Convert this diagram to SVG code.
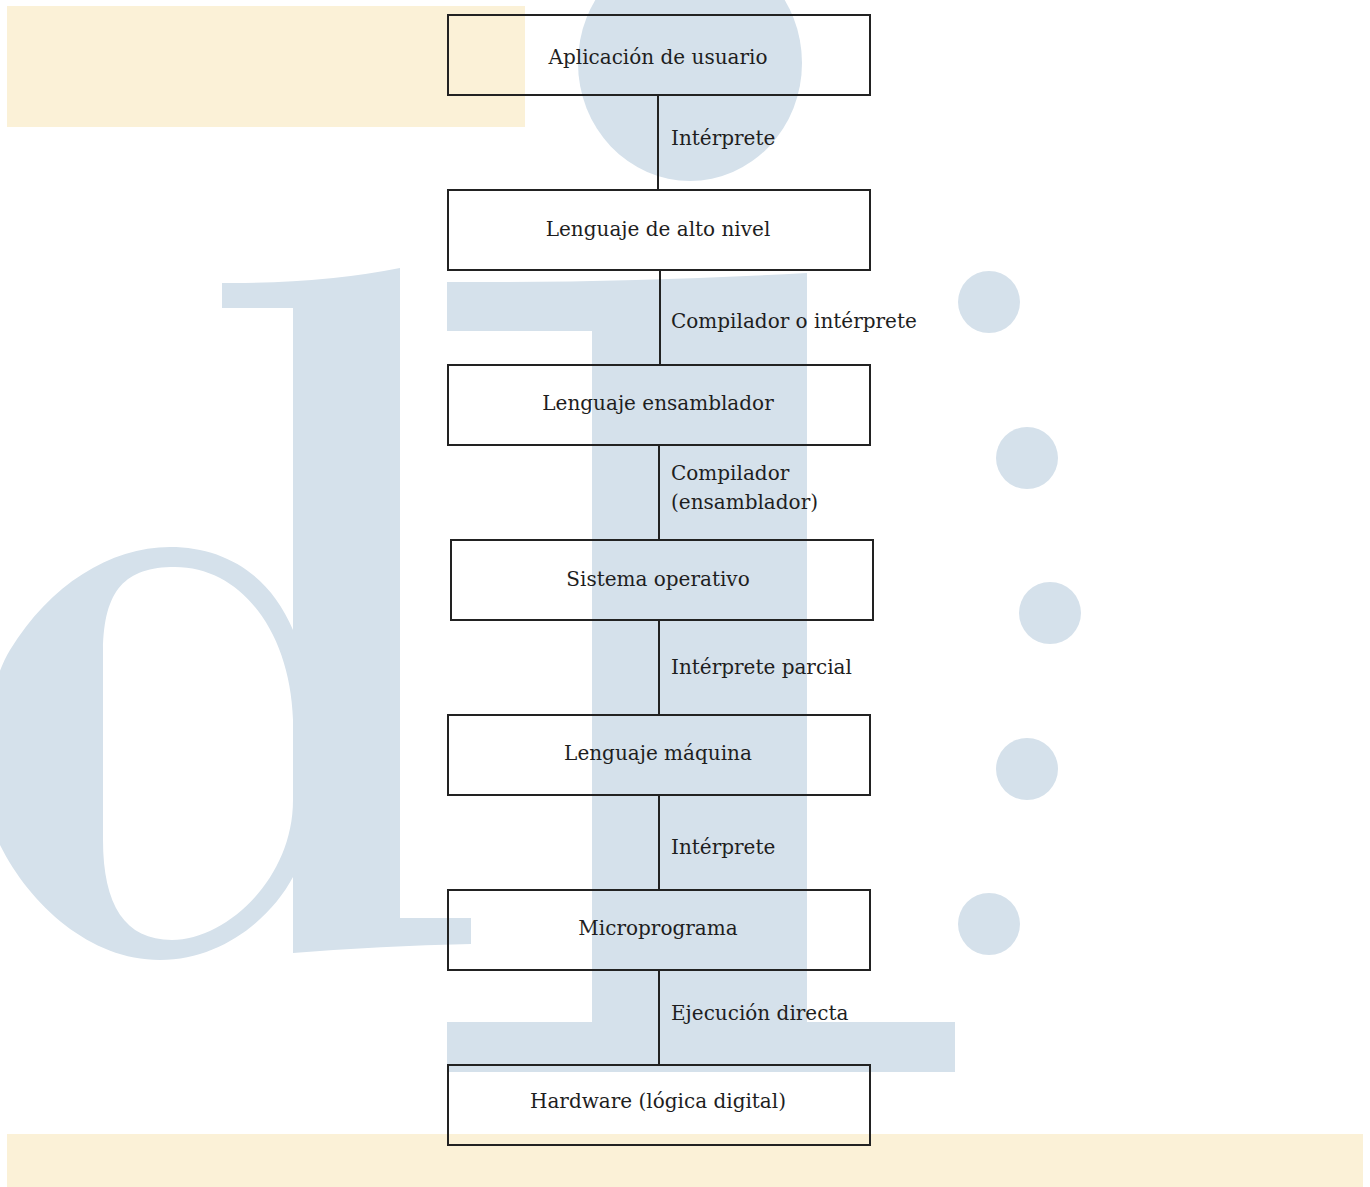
<svg xmlns="http://www.w3.org/2000/svg" width="1370" height="1187" viewBox="0 0 1370 1187">
  <style>
    .bg-blue { fill: #d5e1eb; }
    .bg-yellow { fill: #fbf1d7; }
    .box { fill: none; stroke: #222; stroke-width: 2; }
    .link { stroke: #222; stroke-width: 2; fill: none; }
    .label { font-family: "DejaVu Serif", "Liberation Serif", serif; font-size: 20px; fill: #1e1e1e; }
    .node-text { text-anchor: middle; }
  </style>

  <!-- decorative backdrop -->
  <g id="backdrop">
    <rect class="bg-yellow" x="7" y="6" width="518" height="121"/>
    <rect class="bg-yellow" x="7" y="1134" width="1356" height="53"/>
    <ellipse class="bg-blue" cx="690" cy="63" rx="112" ry="118"/>
    <!-- letter d -->
    <path class="bg-blue" d="M222,283 Q320,284 400,268 L400,918 L471,918 L471,944 Q380,946 293,953 L293,308 L222,308 Z"/>
    <path class="bg-blue" fill-rule="evenodd" d="M293,630 C270,575 225,547 170,547 C110,547 50,585 10,650 C-20,700 -25,800 0,845 C30,905 90,960 160,960 C220,960 270,920 293,877 Z
      M175,567 C240,567 290,630 293,720 L293,800 C293,880 225,940 172,940 C125,940 103,905 103,840 L103,650 C104,590 125,567 175,567 Z"/>
    <!-- letter i -->
    <path class="bg-blue" d="M447,282 Q620,283 807,273 L807,1022 L955,1022 L955,1072 L447,1072 L447,1022 L592,1022 L592,331 L447,331 Z"/>
    <!-- dots -->
    <circle class="bg-blue" cx="989" cy="302" r="31"/>
    <circle class="bg-blue" cx="1027" cy="458" r="31"/>
    <circle class="bg-blue" cx="1050" cy="613" r="31"/>
    <circle class="bg-blue" cx="1027" cy="769" r="31"/>
    <circle class="bg-blue" cx="989" cy="924" r="31"/>
  </g>

  <!-- connectors with their labels -->
  <g id="connectors">
    <line class="link" x1="658" y1="95" x2="658" y2="190"/>
    <line class="link" x1="660" y1="270" x2="660" y2="365"/>
    <line class="link" x1="659" y1="445" x2="659" y2="540"/>
    <line class="link" x1="659" y1="620" x2="659" y2="715"/>
    <line class="link" x1="659" y1="795" x2="659" y2="890"/>
    <line class="link" x1="659" y1="970" x2="659" y2="1065"/>
    <text class="label" x="671" y="145">Intérprete</text>
    <text class="label" x="671" y="328">Compilador o intérprete</text>
    <text class="label" x="671" y="480">Compilador</text>
    <text class="label" x="671" y="509">(ensamblador)</text>
    <text class="label" x="671" y="674">Intérprete parcial</text>
    <text class="label" x="671" y="854">Intérprete</text>
    <text class="label" x="671" y="1020">Ejecución directa</text>
  </g>

  <g id="n-aplicacion">
    <rect class="box" x="448" y="15" width="422" height="80"/>
    <text class="label node-text" x="658" y="64">Aplicación de usuario</text>
  </g>
  <g id="n-alto-nivel">
    <rect class="box" x="448" y="190" width="422" height="80"/>
    <text class="label node-text" x="658" y="236">Lenguaje de alto nivel</text>
  </g>
  <g id="n-ensamblador">
    <rect class="box" x="448" y="365" width="422" height="80"/>
    <text class="label node-text" x="658" y="410">Lenguaje ensamblador</text>
  </g>
  <g id="n-sistema-operativo">
    <rect class="box" x="451" y="540" width="422" height="80"/>
    <text class="label node-text" x="658" y="586">Sistema operativo</text>
  </g>
  <g id="n-maquina">
    <rect class="box" x="448" y="715" width="422" height="80"/>
    <text class="label node-text" x="658" y="760">Lenguaje máquina</text>
  </g>
  <g id="n-microprograma">
    <rect class="box" x="448" y="890" width="422" height="80"/>
    <text class="label node-text" x="658" y="935">Microprograma</text>
  </g>
  <g id="n-hardware">
    <rect class="box" x="448" y="1065" width="422" height="80"/>
    <text class="label node-text" x="658" y="1108">Hardware (lógica digital)</text>
  </g>
</svg>
